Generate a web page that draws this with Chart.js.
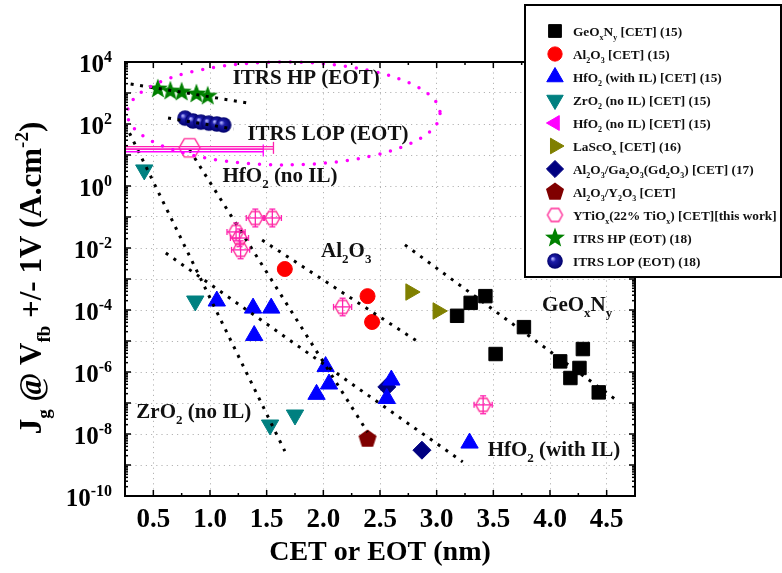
<!DOCTYPE html>
<html>
<head>
<meta charset="utf-8">
<script src="https://cdn.jsdelivr.net/npm/chart.js@4.4.0/dist/chart.umd.min.js"></script>
<style>
html, body { margin: 0; padding: 0; background: #fff; }
#wrap { position: relative; width: 782px; height: 573px; }
</style>
</head>
<body>
<div id="wrap"><canvas id="chart" width="782" height="573"></canvas></div>
<script>
// ---- data (x = CET/EOT in nm, y = Jg in A/cm2) ----
var geX = [3.18, 3.30, 3.43, 3.77, 3.52, 4.09, 4.29, 4.26, 4.18, 4.43];
var geY = [6.5e-5, 1.7e-4, 2.8e-4, 2.8e-5, 3.8e-6, 2.2e-6, 5.5e-6, 1.35e-6, 6.4e-7, 2.2e-7];
var alX = [1.66, 2.39, 2.43];
var alY = [2.1e-3, 2.8e-4, 4.1e-5];
var hfIlX = [1.06, 1.38, 1.54, 1.39, 2.02, 2.05, 1.94, 2.60, 2.56, 3.29];
var hfIlY = [1.95e-4, 1.15e-4, 1.15e-4, 1.5e-5, 1.5e-6, 4.1e-7, 1.9e-7, 5.5e-7, 1.4e-7, 5.1e-9];
var zrX = [0.42, 0.87, 1.53, 1.75];
var zrY = [3.3, 1.95e-4, 1.95e-8, 4.1e-8];
var hfNoIlX = [0.12];
var hfNoIlY = [14];
var hfNoIlXLo = [-0.5];
var hfNoIlXHi = [1.47];
var lascX = [2.77, 3.01];
var lascY = [3.8e-4, 9.3e-5];
var gaX = [2.56, 2.87];
var gaY = [3.3e-7, 3.0e-9];
var yoX = [2.39];
var yoY = [6.9e-9];
var ytioX = [0.82, 1.40, 1.55, 1.23, 1.26, 1.27, 2.17, 3.41];
var ytioY = [17, 0.093, 0.093, 0.033, 0.021, 0.0087, 1.26e-4, 8.7e-8];
var ytioXLo = [-0.5, 1.32, 1.47, 1.15, 1.18, 1.19, 2.09, 3.33];
var ytioXHi = [1.56, 1.48, 1.63, 1.31, 1.34, 1.35, 2.25, 3.49];
var ytioYLo = [17, 0.048, 0.048, 0.017, 0.011, 0.0045, 6.5e-5, 4.5e-8];
var ytioYHi = [17, 0.18, 0.18, 0.064, 0.041, 0.017, 2.4e-4, 1.7e-7];
var hpX = [0.54, 0.65, 0.75, 0.88, 0.98];
var hpY = [1350, 1150, 1070, 930, 790];
var lopX = [0.78, 0.85, 0.92, 0.99, 1.06, 1.12];
var lopY = [155, 125, 115, 107, 100, 93];

// dotted guide lines (end points)
var fitHpX = [0.30, 1.33], fitHpY = [1950, 480];
var fitLopX = [0.63, 1.21], fitLopY = [155, 69];
var fitZrX = [0.29, 1.66], fitZrY = [51, 2.8e-9];
var fitHfNoIlX = [0.82, 2.39], fitHfNoIlY = [14.5, 1.15e-8];
var fitHfIlX = [0.61, 3.23], fitHfIlY = [6.9e-3, 1.26e-9];
var fitAlX = [1.46, 2.85], fitAlY = [1.8e-2, 8.7e-6];
var fitGeX = [2.72, 4.61], fitGeY = [1.26e-2, 1.07e-7];

// ITRS ellipse: centre and half axes (x in nm, y in decades)
var ellipseCx = 1.65, ellipseCy = 219, ellipseRx = 1.38, ellipseRyDec = 1.66;

// axes
var xMin = 0.25, xMax = 4.75;
var xTickValues = [0.5, 1.0, 1.5, 2.0, 2.5, 3.0, 3.5, 4.0, 4.5];
var xTickLabels = ['0.5', '1.0', '1.5', '2.0', '2.5', '3.0', '3.5', '4.0', '4.5'];
var yMinExp = -10, yMaxExp = 4;
var yTickExps = [4, 2, 0, -2, -4, -6, -8, -10];
var xTitle = 'CET or EOT (nm)';
var yTitle = 'J_{g} @ V_{fb} +/- 1V (A.cm^{-2})';

// text labels inside the plot (left x, baseline y)
var noteTexts = ['ITRS HP (EOT)', 'ITRS LOP (EOT)', 'HfO_{2} (no IL)', 'Al_{2}O_{3}', 'GeO_{x}N_{y}', 'ZrO_{2} (no IL)', 'HfO_{2} (with IL)'];
var noteX = [1.20, 1.33, 1.11, 1.98, 3.93, 0.35, 3.45];
var noteY = [1950, 30.5, 1.35, 5.1e-3, 9.3e-5, 3.3e-8, 1.95e-9];

var FONT = '"Liberation Serif", "Times New Roman", serif';

// ---- marker images ----
function icon(size, draw) {
    var c = document.createElement('canvas');
    c.width = size; c.height = size;
    draw(c.getContext('2d'), size / 2);
    return c;
}
function polyPath(g, c, n, r, r2, start) {
    g.beginPath();
    var steps = r2 ? n * 2 : n;
    for (var i = 0; i < steps; i++) {
        var rr = (r2 && i % 2) ? r2 : r;
        var a = start + i * 2 * Math.PI / steps;
        g.lineTo(c + rr * Math.cos(a), c + rr * Math.sin(a));
    }
    g.closePath();
}
var starIcon = icon(24, function(g, c) {
    polyPath(g, c, 5, 10.5, 4.4, -Math.PI / 2);
    g.fillStyle = '#008000'; g.fill();
});
var pentIcon = icon(22, function(g, c) {
    polyPath(g, c, 5, 9.5, 0, -Math.PI / 2);
    g.fillStyle = '#800000'; g.fill();
});
function hexIcon(r) {
    return icon(Math.ceil(r * 2 + 4), function(g, c) {
        polyPath(g, c, 6, r, 0, 0);
        g.strokeStyle = '#ff2896'; g.lineWidth = 1.4; g.stroke();
    });
}
var hexSmall = hexIcon(7.5);
var hexBig = hexIcon(10.5);
var ballIcon = icon(18, function(g, c) {
    var gr = g.createRadialGradient(c - 2.5, c - 2.5, 0.5, c, c, 8);
    gr.addColorStop(0, '#b0b0ff');
    gr.addColorStop(0.3, '#1c1ca8');
    gr.addColorStop(1, '#00006a');
    g.beginPath(); g.arc(c, c, 7.8, 0, Math.PI * 2);
    g.fillStyle = gr; g.fill();
});

function pts(xs, ys) {
    return xs.map(function(x, i) { return { x: x, y: ys[i] }; });
}
function markers(label, xs, ys, style, color, radius, rotation) {
    return {
        label: label, data: pts(xs, ys), pointStyle: style, pointRadius: radius,
        pointRotation: rotation || 0, backgroundColor: color, borderColor: color,
        borderWidth: 1, showLine: false, order: 1
    };
}
function guide(xs, ys) {
    return {
        label: '', data: pts(xs, ys), showLine: true, pointRadius: 0,
        borderColor: '#000', borderWidth: 3, borderDash: [3, 6.5], borderCapStyle: 'butt',
        fill: false, order: 0
    };
}

var ytioSet = markers('YTiO_{x}(22% TiO_{x}) [CET][this work]', ytioX, ytioY, function(c) {
    return c.dataIndex === 0 ? hexBig : hexSmall;
}, '#ff2896', 8, 0);
ytioSet.legendIcon = hexSmall;
ytioSet.errXLo = ytioXLo; ytioSet.errXHi = ytioXHi; ytioSet.errYLo = ytioYLo; ytioSet.errYHi = ytioYHi;
ytioSet.errColor = '#ff22b0';

var hfNoIlSet = markers('HfO_{2} (no IL) [CET] (15)', hfNoIlX, hfNoIlY, 'triangle', '#ff00ff', 9, -90);
hfNoIlSet.errXLo = hfNoIlXLo; hfNoIlSet.errXHi = hfNoIlXHi; hfNoIlSet.errColor = '#ff00ff';

var markerSets = [
    markers('GeO_{x}N_{y} [CET] (15)', geX, geY, 'rect', '#000000', 9.5, 0),
    markers('Al_{2}O_{3} [CET] (15)', alX, alY, 'circle', '#ff0000', 7.5, 0),
    markers('HfO_{2} (with IL) [CET] (15)', hfIlX, hfIlY, 'triangle', '#0000ff', 10, 0),
    markers('ZrO_{2} (no IL) [CET] (15)', zrX, zrY, 'triangle', '#008080', 10, 180),
    hfNoIlSet,
    markers('LaScO_{x} [CET] (16)', lascX, lascY, 'triangle', '#808000', 9.5, 90),
    markers('Al_{2}O_{3}/Ga_{2}O_{3}(Gd_{2}O_{3}) [CET] (17)', gaX, gaY, 'rectRot', '#000080', 9, 0),
    markers('Al_{2}O_{3}/Y_{2}O_{3} [CET]', yoX, yoY, pentIcon, '#800000', 9, 0),
    ytioSet,
    markers('ITRS HP (EOT) (18)', hpX, hpY, starIcon, '#008000', 9, 0),
    markers('ITRS LOP (EOT) (18)', lopX, lopY, ballIcon, '#000080', 8, 0)
];
var guideSets = [
    guide(fitHpX, fitHpY), guide(fitLopX, fitLopY), guide(fitZrX, fitZrY),
    guide(fitHfNoIlX, fitHfNoIlY), guide(fitHfIlX, fitHfIlY), guide(fitAlX, fitAlY), guide(fitGeX, fitGeY)
];

// ---- rich text with _{sub} and ^{sup} ----
function richSegments(str) {
    var segs = [], re = /([_^])\{([^}]*)\}/g, last = 0, m;
    while ((m = re.exec(str))) {
        if (m.index > last) segs.push({ t: str.slice(last, m.index), k: 'n' });
        segs.push({ t: m[2], k: m[1] === '_' ? 'sub' : 'sup' });
        last = re.lastIndex;
    }
    if (last < str.length) segs.push({ t: str.slice(last), k: 'n' });
    return segs;
}
function drawRich(ctx, str, x, y, size, align, color) {
    var segs = richSegments(str);
    var small = Math.round(size * 0.62);
    var w = 0;
    segs.forEach(function(s) {
        ctx.font = 'bold ' + (s.k === 'n' ? size : small) + 'px ' + FONT;
        s.w = ctx.measureText(s.t).width;
        w += s.w;
    });
    var cx = align === 'center' ? x - w / 2 : (align === 'right' ? x - w : x);
    ctx.fillStyle = color;
    ctx.textAlign = 'left';
    ctx.textBaseline = 'alphabetic';
    segs.forEach(function(s) {
        ctx.font = 'bold ' + (s.k === 'n' ? size : small) + 'px ' + FONT;
        var dy = s.k === 'sub' ? size * 0.28 : (s.k === 'sup' ? -size * 0.42 : 0);
        ctx.fillText(s.t, cx, y + dy);
        cx += s.w;
    });
}

function seg(ctx, x1, y1, x2, y2) {
    ctx.beginPath(); ctx.moveTo(x1, y1); ctx.lineTo(x2, y2); ctx.stroke();
}

var extrasPlugin = {
    id: 'extras',
    afterDatasetsDraw: function(chart) {
        var ctx = chart.ctx, xa = chart.scales.x, ya = chart.scales.y, a = chart.chartArea;
        ctx.save();
        // error bars
        ctx.beginPath(); ctx.rect(a.left, a.top, a.right - a.left, a.bottom - a.top); ctx.clip();
        chart.data.datasets.forEach(function(ds) {
            if (!ds.errXLo) return;
            ctx.strokeStyle = ds.errColor; ctx.lineWidth = 1.3;
            ds.data.forEach(function(p, i) {
                var px = xa.getPixelForValue(p.x), py = ya.getPixelForValue(p.y);
                var x1 = xa.getPixelForValue(ds.errXLo[i]), x2 = xa.getPixelForValue(ds.errXHi[i]);
                var big = (x2 - x1) > 40;
                var cap = big ? 6 : 3;
                if (big) {
                    seg(ctx, x1, py - 1.3, x2, py - 1.3);
                    seg(ctx, x1, py + 1.3, x2, py + 1.3);
                } else {
                    seg(ctx, x1, py, x2, py);
                }
                seg(ctx, x2, py - cap, x2, py + cap);
                seg(ctx, x1, py - cap, x1, py + cap);
                if (ds.errYLo && ds.errYLo[i] !== ds.errYHi[i]) {
                    var y1 = ya.getPixelForValue(ds.errYLo[i]), y2 = ya.getPixelForValue(ds.errYHi[i]);
                    seg(ctx, px, y1, px, y2);
                    seg(ctx, px - cap, y1, px + cap, y1);
                    seg(ctx, px - cap, y2, px + cap, y2);
                }
            });
        });
        ctx.restore();

        // ITRS ellipse
        ctx.save();
        var cx = xa.getPixelForValue(ellipseCx), cy = ya.getPixelForValue(ellipseCy);
        var rx = xa.getPixelForValue(ellipseCx + ellipseRx) - cx;
        var ry = cy - ya.getPixelForValue(ellipseCy * Math.pow(10, ellipseRyDec));
        ctx.beginPath();
        ctx.ellipse(cx, cy, rx, ry, 0, 0, Math.PI * 2);
        ctx.strokeStyle = '#ff00ff'; ctx.lineWidth = 3.5; ctx.lineCap = 'round';
        ctx.setLineDash([0, 11]);
        ctx.stroke();
        ctx.restore();

        // labels in the plot
        ctx.save();
        noteTexts.forEach(function(t, i) {
            drawRich(ctx, t, xa.getPixelForValue(noteX[i]), ya.getPixelForValue(noteY[i]), 21, 'left', '#111');
        });
        ctx.restore();
    },
    afterDraw: function(chart) {
        var ctx = chart.ctx, xa = chart.scales.x, ya = chart.scales.y, a = chart.chartArea;
        ctx.save();
        ctx.strokeStyle = '#000';
        ctx.lineWidth = 1.5;
        // ticks pointing inward on all four sides
        xTickValues.forEach(function(v, i) {
            var px = xa.getPixelForValue(v);
            seg(ctx, px, a.bottom, px, a.bottom - 6);
            seg(ctx, px, a.top, px, a.top + 6);
            if (i < xTickValues.length - 1) {
                var pm = xa.getPixelForValue(v + 0.25);
                seg(ctx, pm, a.bottom, pm, a.bottom - 3);
                seg(ctx, pm, a.top, pm, a.top + 3);
            }
        });
        for (var e = yMinExp; e <= yMaxExp; e++) {
            var py = ya.getPixelForValue(Math.pow(10, e));
            seg(ctx, a.left, py, a.left + 6, py);
            seg(ctx, a.right, py, a.right - 6, py);
            if (e < yMaxExp) {
                for (var m = 2; m <= 9; m++) {
                    var pm2 = ya.getPixelForValue(m * Math.pow(10, e));
                    seg(ctx, a.left, pm2, a.left + 3, pm2);
                    seg(ctx, a.right, pm2, a.right - 3, pm2);
                }
            }
        }
        // frame
        ctx.lineWidth = 2;
        ctx.strokeRect(a.left, a.top, a.right - a.left, a.bottom - a.top);

        // tick labels
        ctx.fillStyle = '#000';
        ctx.font = 'bold 27px ' + FONT;
        ctx.textAlign = 'center';
        ctx.textBaseline = 'alphabetic';
        xTickValues.forEach(function(v, i) {
            ctx.fillText(xTickLabels[i], xa.getPixelForValue(v), a.bottom + 31);
        });
        yTickExps.forEach(function(e) {
            var py = ya.getPixelForValue(Math.pow(10, e));
            drawRich(ctx, '10^{' + e + '}', 112, py + 10, 25, 'right', '#000');
        });

        // axis titles
        ctx.font = 'bold 28px ' + FONT;
        ctx.textAlign = 'center';
        ctx.fillText(xTitle, (a.left + a.right) / 2, 560);
        ctx.save();
        ctx.translate(41, 278);
        ctx.rotate(-Math.PI / 2);
        drawRich(ctx, yTitle, 0, 0, 31, 'center', '#000');
        ctx.restore();

        // legend box
        var lx = 525, ly = 5, lw = 256, lh = 272;
        ctx.fillStyle = '#fff';
        ctx.fillRect(lx, ly, lw, lh);
        ctx.lineWidth = 2;
        ctx.strokeStyle = '#000';
        ctx.strokeRect(lx, ly, lw, lh);
        markerSets.forEach(function(ds, i) {
            var ry = 31 + i * 23;
            var style = ds.legendIcon || ds.pointStyle;
            ctx.save();
            ctx.fillStyle = ds.backgroundColor;
            ctx.strokeStyle = ds.borderColor;
            ctx.lineWidth = 1;
            Chart.helpers.drawPoint(ctx, { pointStyle: style, rotation: ds.pointRotation, radius: ds.pointRadius * 0.95, borderWidth: 1 }, 555, ry);
            ctx.restore();
            drawRich(ctx, ds.label, 573, ry + 5, 13.3, 'left', '#111');
        });
        ctx.restore();
    }
};

var yGrid = [];
for (var e = yMinExp; e <= yMaxExp; e++) yGrid.push(Math.pow(10, e));

new Chart(document.getElementById('chart'), {
    type: 'scatter',
    data: { datasets: markerSets.concat(guideSets) },
    options: {
        responsive: false,
        animation: false,
        devicePixelRatio: 1,
        layout: { padding: { left: 125, top: 62, right: 147, bottom: 77 } },
        plugins: { legend: { display: false }, tooltip: { enabled: false } },
        scales: {
            x: {
                type: 'linear', min: xMin, max: xMax,
                afterBuildTicks: function(s) { s.ticks = xTickValues.map(function(v) { return { value: v }; }); },
                ticks: { display: false },
                grid: { color: '#b4b4b4', lineWidth: 1, drawTicks: false },
                border: { display: false, dash: [1.2, 4] }
            },
            y: {
                type: 'logarithmic', min: Math.pow(10, yMinExp), max: Math.pow(10, yMaxExp),
                afterBuildTicks: function(s) { s.ticks = yGrid.map(function(v) { return { value: v }; }); },
                ticks: { display: false },
                grid: { color: '#b4b4b4', lineWidth: 1, drawTicks: false },
                border: { display: false, dash: [1.2, 4] }
            }
        }
    },
    plugins: [extrasPlugin]
});
</script>
</body>
</html>
